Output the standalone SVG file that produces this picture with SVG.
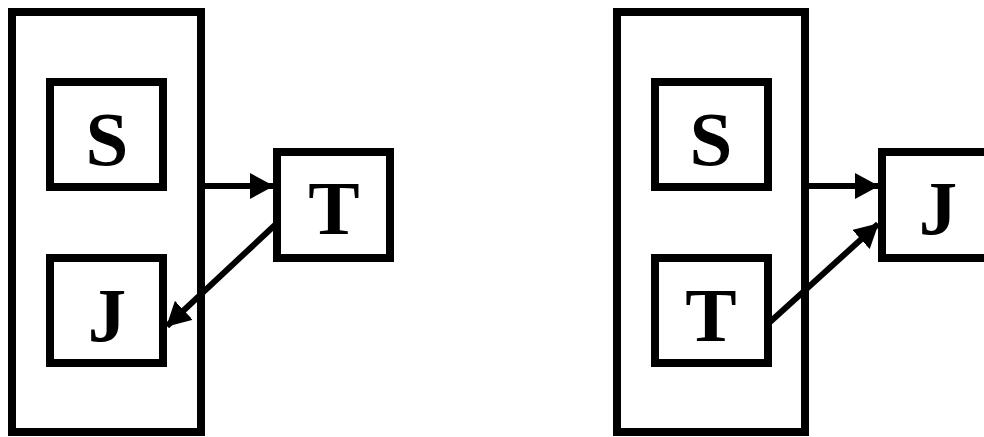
<svg xmlns="http://www.w3.org/2000/svg" width="984" height="437" viewBox="0 0 984 437">
<style>
.box{fill:none;stroke:#000;stroke-width:8}
.outer{fill:none;stroke:#000;stroke-width:8}
.lbl{font-family:"Liberation Serif","Times New Roman",serif;font-weight:bold;font-size:77px;text-anchor:middle;fill:#000}
.edge{stroke:#000;stroke-width:6;fill:none}
</style>
<defs>
<marker id="ah" markerUnits="userSpaceOnUse" markerWidth="24" markerHeight="26" refX="23" refY="13" orient="auto">
<path d="M0,0 L24,13 L0,26 Z" fill="#000"/>
</marker>
</defs>
<rect width="984" height="437" fill="#fff"/>
<g id="left-group"><rect class="outer" x="12" y="12" width="189" height="420"/></g>
<g id="left-S"><rect class="box" x="50" y="82" width="113" height="105"/><text class="lbl" x="107" y="165">S</text></g>
<g id="left-J"><rect class="box" x="50" y="258" width="113" height="105"/><text class="lbl" x="107" y="341">J</text></g>
<g id="left-T"><rect class="box" x="277" y="152" width="113" height="106"/><text class="lbl" x="334" y="234">T</text></g>
<g id="right-group"><rect class="outer" x="617" y="12" width="188" height="420"/></g>
<g id="right-S"><rect class="box" x="655" y="82" width="113" height="105"/><text class="lbl" x="711" y="165">S</text></g>
<g id="right-T"><rect class="box" x="655" y="258" width="113" height="105"/><text class="lbl" x="711" y="341">T</text></g>
<g id="right-J"><rect class="box" x="882" y="152" width="113" height="106"/><text class="lbl" x="938" y="234">J</text></g>
<g id="connectors">
<line class="edge" x1="205" y1="186" x2="273" y2="186" marker-end="url(#ah)"/>
<line class="edge" x1="275" y1="225" x2="167" y2="326" marker-end="url(#ah)"/>
<line class="edge" x1="809" y1="186" x2="878" y2="186" marker-end="url(#ah)"/>
<line class="edge" x1="770" y1="322" x2="878" y2="224" marker-end="url(#ah)"/>
</g>
</svg>
